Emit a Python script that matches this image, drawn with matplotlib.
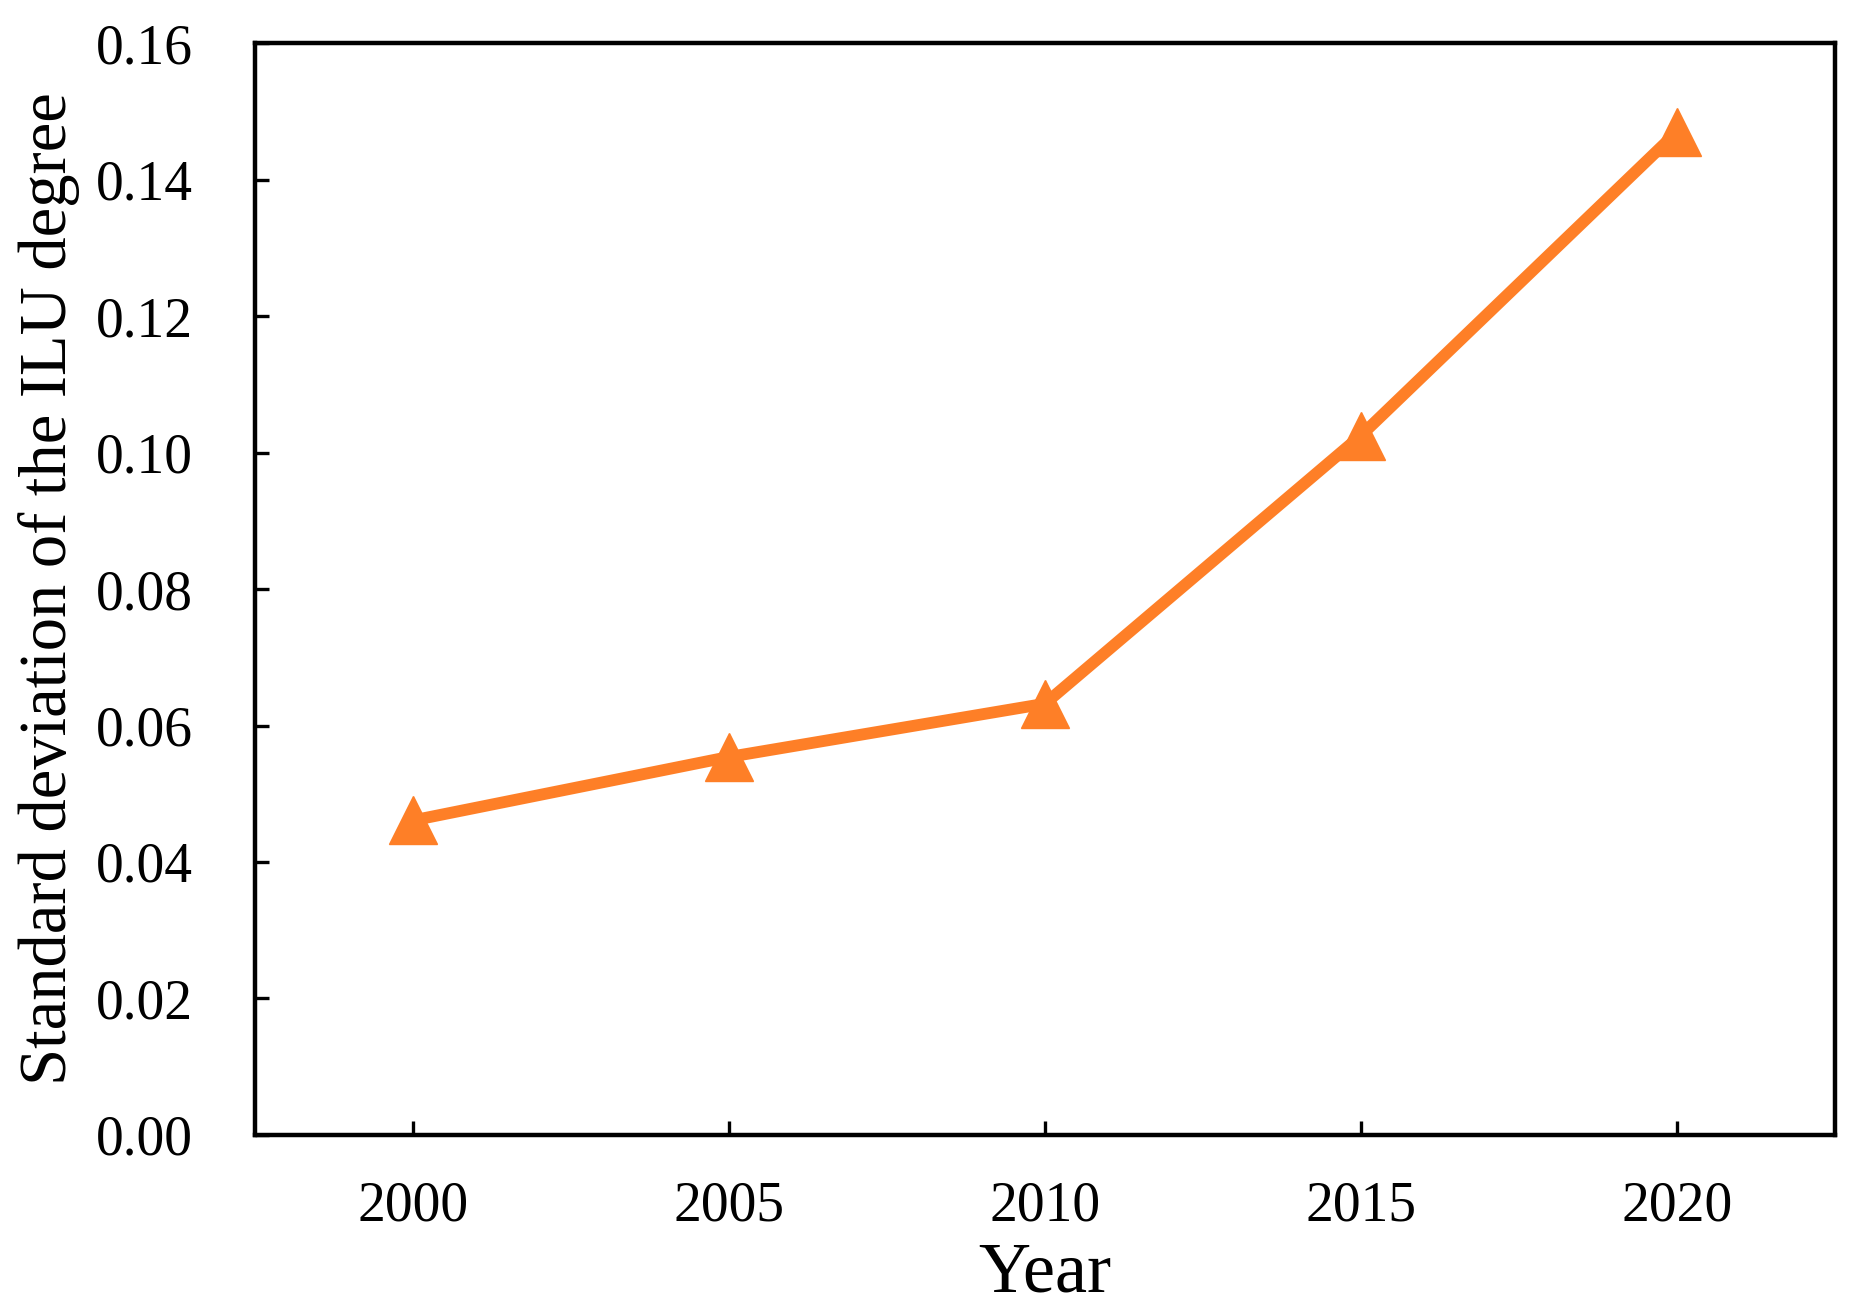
import matplotlib
matplotlib.use("Agg")
import matplotlib.pyplot as plt

# values
years = [2000, 2005, 2010, 2015, 2020]
std_dev = [0.0461, 0.0554, 0.0632, 0.1025, 0.147]
xticks = [2000, 2005, 2010, 2015, 2020]
yticks = [0.00, 0.02, 0.04, 0.06, 0.08, 0.10, 0.12, 0.14, 0.16]

plt.rcParams['font.family'] = ['Liberation Serif', 'DejaVu Serif']

fig = plt.figure(figsize=(18.76, 13.15), dpi=100)
ax = fig.add_axes([0.136, 0.137, 0.842, 0.83])

ax.plot(years, std_dev, color='#fe7f27', lw=8.5, marker='^', markersize=35)

ax.set_xlim(1997.5, 2022.5)
ax.set_ylim(0, 0.16)
ax.set_xticks(xticks)
ax.set_yticks(yticks)
ax.set_yticklabels([f"{v:.2f}" for v in yticks])

for s in ax.spines.values():
    s.set_linewidth(3.2)

ax.tick_params(direction='in', length=10, width=2.4, labelsize=40)
ax.tick_params(axis='x', pad=33)
ax.tick_params(axis='y', pad=45)

ax.set_xlabel("Year", fontsize=52, labelpad=6)
ax.set_ylabel("Standard deviation of the ILU degree", fontsize=48, labelpad=11)

fig.savefig("out.png", dpi=100)
